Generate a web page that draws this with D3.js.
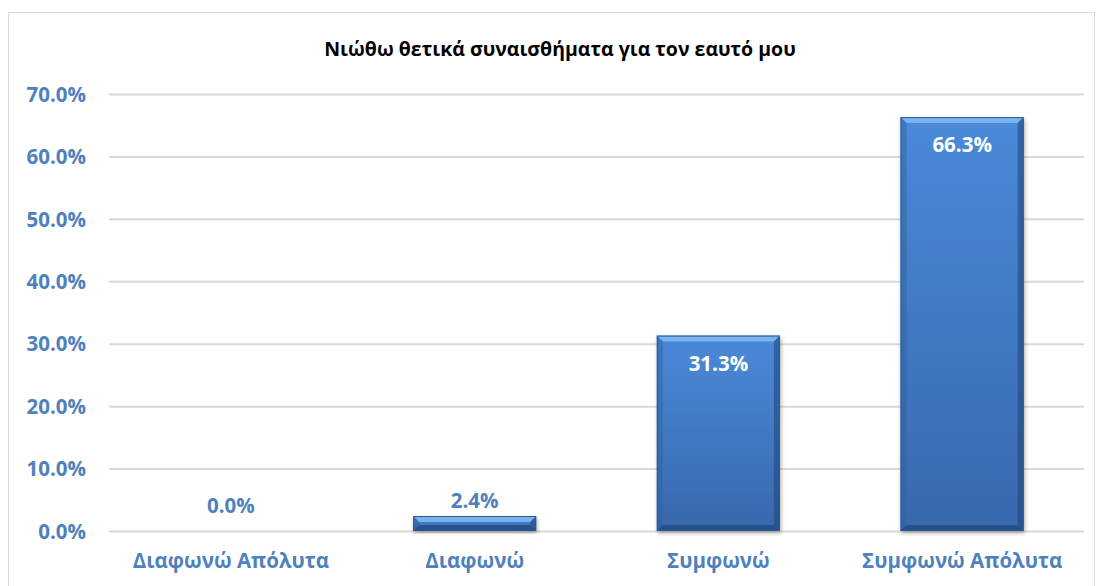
<!DOCTYPE html>
<html>
<head>
<meta charset="utf-8">
<script src="https://cdn.jsdelivr.net/npm/d3@7"></script>
<style>
  html, body { margin: 0; padding: 0; background: #fff; }
  svg { display: block; }
  text { font-family: "Open Sans", "Noto Sans", sans-serif; font-weight: 700; }
</style>
</head>
<body>
<svg id="chart" width="1102" height="586"></svg>
<script>
// Survey responses (share of respondents)
const categories = ["Διαφωνώ Απόλυτα", "Διαφωνώ", "Συμφωνώ", "Συμφωνώ Απόλυτα"];
const values = [0.0, 2.4, 31.3, 66.3];
const yTicks = [0, 10, 20, 30, 40, 50, 60, 70];
const title = "Νιώθω θετικά συναισθήματα για τον εαυτό μου";

const svg = d3.select("#chart");
const W = 1102, H = 586;
const margin = { left: 109, right: 18, top: 94, bottom: 55 };
const x0 = margin.left, x1 = W - margin.right;
const yTop = margin.top, yBot = H - margin.bottom;

const axisBlue = "#4f81bd";
const labelSize = 20.5;

// outer frame
svg.append("rect")
  .attr("x", 8.5).attr("y", 12.5)
  .attr("width", 1086).attr("height", 600)
  .attr("fill", "#fff").attr("stroke", "#d9d9d9").attr("stroke-width", 1);

const x = d3.scaleBand().domain(categories).range([x0, x1]).paddingInner(0.495).paddingOuter(0.2475);
const y = d3.scaleLinear().domain([0, 70]).range([yBot, yTop]);

// title
svg.append("text")
  .attr("x", 560).attr("y", 56)
  .attr("text-anchor", "middle")
  .attr("font-size", 19.5)
  .attr("fill", "#000")
  .text(title);

// gridlines
svg.append("g").selectAll("line").data(yTicks).join("line")
  .attr("x1", x0).attr("x2", x1)
  .attr("y1", d => y(d) + 0.5).attr("y2", d => y(d) + 0.5)
  .attr("stroke", "#d9d9d9").attr("stroke-width", 2);

// y axis labels
const yAxis = d3.axisLeft(y).tickValues(yTicks).tickSize(0).tickPadding(0)
  .tickFormat(d => d3.format(".1f")(d) + "%");
const gy = svg.append("g").attr("transform", `translate(86,0)`).call(yAxis);
gy.select(".domain").remove();
gy.selectAll("text")
  .attr("font-size", labelSize).attr("fill", axisBlue)
  .attr("font-family", "'Open Sans', sans-serif").attr("font-weight", 700)
  .attr("dy", "0.35em");

// x axis labels
const xAxis = d3.axisBottom(x).tickSize(0).tickPadding(0);
const gx = svg.append("g").attr("transform", `translate(0,${yBot})`).call(xAxis);
gx.select(".domain").remove();
gx.selectAll("text")
  .attr("font-size", labelSize).attr("fill", axisBlue)
  .attr("font-family", "'Open Sans', sans-serif").attr("font-weight", 700)
  .attr("dy", null).attr("y", 37);

// bar gradients and bevel
const defs = svg.append("defs");
const g1 = defs.append("linearGradient").attr("id", "barFill").attr("x1", 0).attr("y1", 0).attr("x2", 0).attr("y2", 1);
g1.append("stop").attr("offset", "0%").attr("stop-color", "#4a8ad9");
g1.append("stop").attr("offset", "100%").attr("stop-color", "#3868ad");
const sh = defs.append("filter").attr("id", "shadow").attr("x", "-10%").attr("y", "-10%").attr("width", "130%").attr("height", "130%");
sh.append("feGaussianBlur").attr("in", "SourceAlpha").attr("stdDeviation", 2);
sh.append("feOffset").attr("dx", 1).attr("dy", 2).attr("result", "b");
sh.append("feComponentTransfer").append("feFuncA").attr("type", "linear").attr("slope", 0.35);
const mrg = sh.append("feMerge");
mrg.append("feMergeNode");
mrg.append("feMergeNode").attr("in", "SourceGraphic");

const bars = svg.append("g").selectAll("g").data(values.map((v, i) => ({ v, c: categories[i] })))
  .join("g").filter(d => d.v > 0);

bars.each(function (d) {
  const g = d3.select(this);
  const bx = x(d.c), bw = x.bandwidth();
  const by = y(d.v), bh = yBot - by;
  const e = Math.min(6, bh / 2);
  g.append("rect").attr("x", bx).attr("y", by).attr("width", bw).attr("height", bh)
    .attr("fill", "url(#barFill)").attr("filter", "url(#shadow)");
  // bevel faces
  const poly = (pts, fill, op) => g.append("polygon").attr("points", pts.map(p => p.join(",")).join(" "))
    .attr("fill", fill).attr("opacity", op);
  poly([[bx, by], [bx + bw, by], [bx + bw - e, by + e], [bx + e, by + e]], "#8cc0f5", 0.75);
  poly([[bx, by], [bx + e, by + e], [bx + e, by + bh - e], [bx, by + bh]], "#2f5f9e", 0.45);
  poly([[bx + bw, by], [bx + bw, by + bh], [bx + bw - e, by + bh - e], [bx + bw - e, by + e]], "#1f4477", 0.55);
  poly([[bx, by + bh], [bx + e, by + bh - e], [bx + bw - e, by + bh - e], [bx + bw, by + bh]], "#1d3f6e", 0.6);
  g.append("rect").attr("x", bx + 0.5).attr("y", by + 0.5).attr("width", bw - 1).attr("height", bh - 1)
    .attr("fill", "none").attr("stroke", "#2c5a96").attr("stroke-width", 1);
});

// value labels: inside the bar for tall bars, above it otherwise
svg.append("g").selectAll("text").data(values.map((v, i) => ({ v, c: categories[i] }))).join("text")
  .attr("x", d => x(d.c) + x.bandwidth() / 2)
  .attr("y", d => d.v > 20 ? y(d.v) + 35 : (d.v > 0 ? y(d.v) - 8 : y(d.v) - 18))
  .attr("text-anchor", "middle")
  .attr("font-size", labelSize)
  .attr("fill", d => d.v > 20 ? "#fff" : axisBlue)
  .text(d => d3.format(".1f")(d.v) + "%");
</script>
</body>
</html>
